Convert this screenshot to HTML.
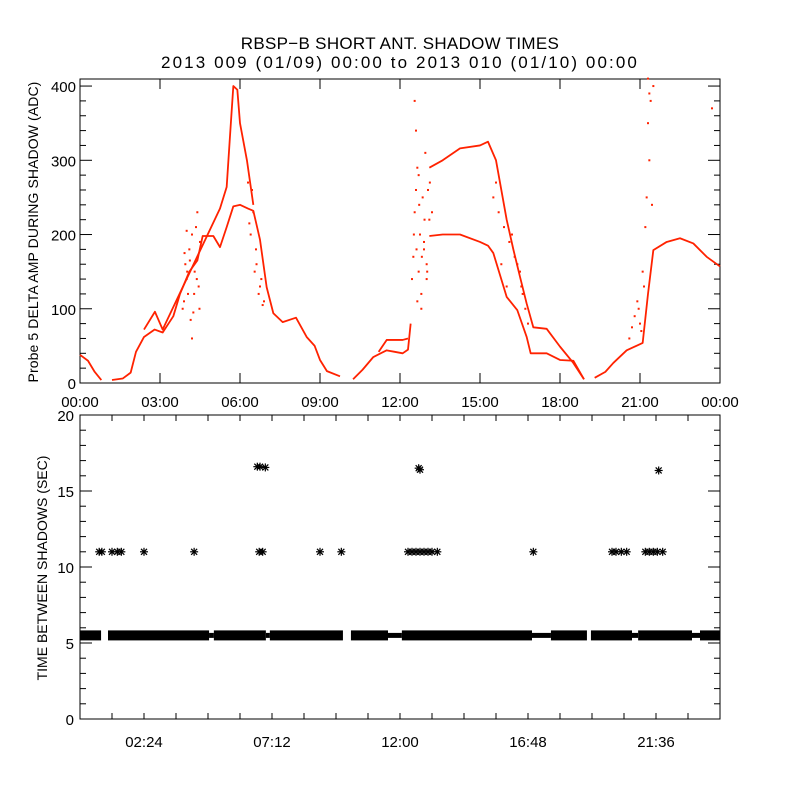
<!DOCTYPE html>
<html><head><meta charset="utf-8"><style>
html,body{margin:0;padding:0;background:#fff;}
svg{display:block;font-family:"Liberation Sans",sans-serif;}
text{fill:#000;}
</style></head><body>
<svg id="chart" width="800" height="800" viewBox="0 0 800 800">
<text x="400" y="49" font-size="17" letter-spacing="0.3" text-anchor="middle">RBSP−B SHORT ANT. SHADOW TIMES</text>
<text x="400" y="68" font-size="17" letter-spacing="2.1" text-anchor="middle">2013 009 (01/09) 00:00 to 2013 010 (01/10) 00:00</text>
<text transform="translate(38,232) rotate(-90)" font-size="14" letter-spacing="0.1" text-anchor="middle">Probe 5 DELTA AMP DURING SHADOW (ADC)</text>
<text transform="translate(47,568) rotate(-90)" font-size="14" text-anchor="middle">TIME BETWEEN SHADOWS (SEC)</text>
<g id="topPanel"></g>
<g id="botPanel"></g>
</svg>
<script>
// ---- top panel data (hour, ADC) ----
const branchA = [[0,38],[0.3,30],[0.55,15],[0.8,4]];
const branchLower = [[1.2,4],[1.6,6],[1.9,14],[2.1,42],[2.4,62],[2.8,72],[3.1,68],[3.5,90],[3.75,120],[4.1,150],[4.4,165],[4.6,198],[5.0,198],[5.25,183],[5.5,210],[5.75,238],[6.0,240],[6.3,235],[6.5,232],[6.75,193],[7.0,129],[7.25,94],[7.6,82],[8.1,88],[8.5,62],[8.8,50],[9.0,31],[9.26,16],[9.75,9]];
const branchUpper = [[2.4,72],[2.81,96],[3.1,72],[5.25,235],[5.5,264],[5.62,330],[5.75,400],[5.9,395],[6.0,350],[6.26,300],[6.5,240]];
const branchMidL = [[10.24,5],[10.6,18],[11.0,35],[11.5,44],[11.8,42],[12.1,40],[12.3,45],[12.4,80]];
const branchMidU = [[11.2,42],[11.5,58],[12.1,58],[12.3,60]];
const branchHiU = [[13.1,290],[13.6,300],[14.25,316],[15.0,320],[15.3,325],[15.6,300],[16.0,220],[16.25,180],[16.5,143],[16.75,107],[17.0,75],[17.5,73],[18.0,49],[18.5,27],[18.9,5]];
const branchHiL = [[13.1,198],[13.6,200],[14.25,200],[15.0,190],[15.3,185],[15.5,175],[16.0,116],[16.4,98],[16.75,62],[16.9,40],[17.5,40],[18.0,31],[18.5,30],[18.9,5]];
const branchLast = [[19.3,7],[19.7,15],[20.0,27],[20.5,44],[21.1,54],[21.3,120],[21.5,179],[22.0,190],[22.5,195],[23.0,188],[23.5,170],[24.0,157]];
const scatterH = [3.9,3.95,4.0,4.05,4.1,4.2,4.25,4.3,4.35,4.4,4.45,4.5,4.2,4.15,4.0,3.85,3.92,4.02,4.12,4.28,4.38,4.48,6.3,6.4,6.5,6.55,6.6,6.7,6.8,6.9,6.45,6.35,6.62,6.75,6.85,12.5,12.55,12.6,12.65,12.7,12.75,12.8,12.85,12.9,12.95,13.0,13.05,13.1,13.2,12.6,12.7,12.8,12.9,13.0,12.55,12.65,12.45,12.52,12.62,12.72,12.82,12.92,13.02,13.12,15.5,15.6,15.7,15.8,15.9,16.0,16.1,16.3,16.5,16.6,16.7,16.8,16.2,16.4,16.55,20.6,20.7,20.8,20.9,21.0,21.1,21.2,21.25,21.3,21.35,21.4,21.45,21.5,21.3,21.35,20.95,21.05,21.15,23.7];
const scatterV = [110,160,140,120,180,200,95,150,210,230,130,190,60,85,205,100,175,150,165,120,140,100,270,200,230,150,180,120,140,110,260,215,160,130,105,170,230,260,290,150,200,120,250,180,310,140,260,220,230,340,280,100,190,160,380,110,140,200,180,240,170,220,150,270,250,270,230,160,210,130,190,170,150,120,100,80,200,160,130,60,75,90,110,80,150,210,250,350,300,380,240,400,410,390,100,70,130,370];
// ---- bottom panel data ----
const bandStart = [0,1.05,5.02,7.12,10.16,12.07,17.66,19.16,20.93,23.25];
const bandEnd   = [0.79,4.84,6.97,9.86,11.55,16.95,19.01,20.7,22.95,24];
const bandValue = 5.5;
const thinStart = [4.84,6.97,11.55,16.95,20.7,22.95];
const thinEnd   = [5.02,7.12,12.07,17.66,20.93,23.25];
const starH = [0.72,0.82,1.2,1.4,1.55,2.4,4.28,6.72,6.85,9.0,9.8,12.3,12.45,12.6,12.75,12.9,13.05,13.2,13.4,17.0,19.95,20.1,20.3,20.5,21.2,21.35,21.5,21.65,21.85,6.65,6.75,6.95,12.7,12.75,21.7];
const starV = [11,11,11,11,11,11,11,11,11,11,11,11,11,11,11,11,11,11,11,11,11,11,11,11,11,11,11,11,11,16.6,16.6,16.55,16.5,16.4,16.35];
const topXLabels = ["00:00","03:00","06:00","09:00","12:00","15:00","18:00","21:00","00:00"];
const topYLabels = [0,100,200,300,400];
const botXLabels = ["02:24","07:12","12:00","16:48","21:36"];
const botXLabelHours = [2.4,7.2,12.0,16.8,21.6];
const botYLabels = [0,5,10,15,20];

const NS="http://www.w3.org/2000/svg";
const X0=80,X1=720;
const xs=h=>X0+(X1-X0)*h/24;
const T0=383,T1=79,TMAX=409.5;
const yt=v=>T0-(T0-T1)*v/TMAX;
const B0=719,B1=415;
const yb=v=>B0-(B0-B1)*v/20;
function mk(tag,attrs,parent){const e=document.createElementNS(NS,tag);for(const k in attrs)e.setAttribute(k,attrs[k]);parent.appendChild(e);return e;}
const topG=document.getElementById('topPanel'),botG=document.getElementById('botPanel');
const RED="#ff2200";

let f=mk('rect',{x:X0,y:T1,width:X1-X0,height:T0-T1,fill:'none',stroke:'#000','stroke-width':1},topG);


for(let v=0;v<=400;v+=20){const maj=v%100===0,L=maj?12:6;
 mk('line',{x1:X0,x2:X0+L,y1:yt(v),y2:yt(v),stroke:'#000'},topG);
 mk('line',{x1:X1,x2:X1-L,y1:yt(v),y2:yt(v),stroke:'#000'},topG);}
topYLabels.forEach(v=>{const t=mk('text',{x:X0-4,y:yt(v)+6,'font-size':15,'text-anchor':'end'},topG);t.textContent=v;
 
 });
topXLabels.forEach((s,i)=>{const x=xs(i*3);
 mk('line',{x1:x,x2:x,y1:T0,y2:T0-10,stroke:'#000'},topG);
 mk('line',{x1:x,x2:x,y1:T1,y2:T1+10,stroke:'#000'},topG);
 const t=mk('text',{x:x,y:407,'font-size':15,'text-anchor':'middle'},topG);t.textContent=s;
 
 });
[branchA,branchLower,branchUpper,branchMidL,branchMidU,branchHiU,branchHiL,branchLast].forEach(b=>{
 const p=mk('polyline',{points:b.map(d=>xs(d[0])+','+yt(d[1])).join(' '),fill:'none',stroke:RED,'stroke-width':1.8,'stroke-linejoin':'round'},topG);
 
 });
scatterH.forEach((h,i)=>{const r=mk('rect',{x:xs(h)-1,y:yt(scatterV[i])-1,width:2,height:2,fill:RED},topG);
 
 });

f=mk('rect',{x:X0,y:B1,width:X1-X0,height:B0-B1,fill:'none',stroke:'#000','stroke-width':1},botG);


for(let v=0;v<=20;v+=1){const maj=v%5===0,L=maj?12:6;
 mk('line',{x1:X0,x2:X0+L,y1:yb(v),y2:yb(v),stroke:'#000'},botG);
 mk('line',{x1:X1,x2:X1-L,y1:yb(v),y2:yb(v),stroke:'#000'},botG);}
botYLabels.forEach(v=>{const t=mk('text',{x:X0-6,y:yb(v)+6,'font-size':15,'text-anchor':'end'},botG);t.textContent=v;
 
 });
for(let h=1.2;h<24;h+=1.2){const x=xs(h);
 mk('line',{x1:x,x2:x,y1:B0,y2:B0-6,stroke:'#000'},botG);
 mk('line',{x1:x,x2:x,y1:B1,y2:B1+6,stroke:'#000'},botG);}
botXLabels.forEach((s,i)=>{const t=mk('text',{x:xs(botXLabelHours[i]),y:747,'font-size':15,'text-anchor':'middle'},botG);t.textContent=s;
 
 });
bandStart.forEach((s,i)=>{const r=mk('rect',{x:xs(s),y:yb(bandValue)-5,width:xs(bandEnd[i])-xs(s),height:10,fill:'#000'},botG);
 
 });
thinStart.forEach((s,i)=>{const r=mk('rect',{x:xs(s),y:yb(bandValue)-2.5,width:xs(thinEnd[i])-xs(s),height:5,fill:'#000'},botG);
 
 });
starH.forEach((h,i)=>{const cx=xs(h),cy=yb(starV[i]);
 const g=mk('g',{stroke:'#000','stroke-width':1.2},botG);
 
 
 mk('line',{x1:cx-4,x2:cx+4,y1:cy,y2:cy},g);mk('line',{x1:cx,x2:cx,y1:cy-4,y2:cy+4},g);
 mk('line',{x1:cx-3,x2:cx+3,y1:cy-3,y2:cy+3},g);mk('line',{x1:cx-3,x2:cx+3,y1:cy+3,y2:cy-3},g);});
</script>
</body></html>
